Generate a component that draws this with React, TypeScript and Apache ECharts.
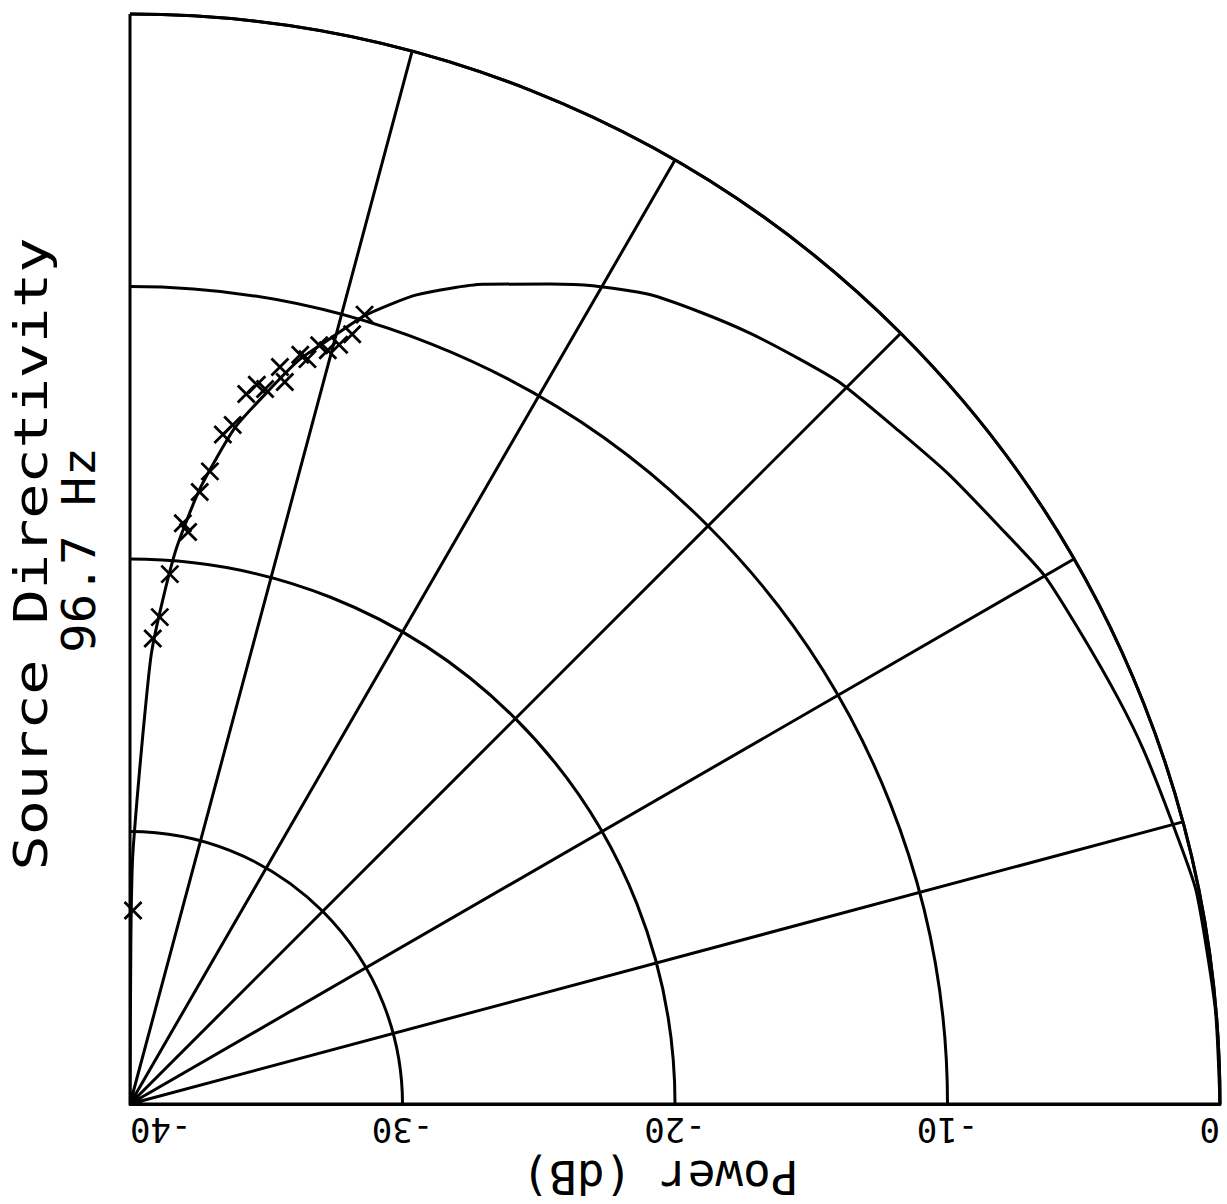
import React, { useEffect, useRef } from "react";
import * as echarts from "echarts";

// Measured directivity curve (angle in degrees, power in dB)
const lineAngles = [0, 5, 11.3, 14.9, 19.2, 22.3, 26.3, 30.1, 33.6, 37.6, 41.2, 45.4, 48.1, 51.2, 54.3, 57.3, 60.5, 62.9, 66.7, 70.5, 73.4, 75.4, 77.2, 79.1, 81.2, 83.5, 85.2, 86.3, 87.3, 88.0, 88.7, 89.4, 89.7, 90];
const lineDb = [0, -0.02, -0.1, -0.37, -0.6, -0.8, -1.06, -1.25, -1.7, -2.1, -2.5, -2.85, -3.25, -3.7, -4.2, -4.7, -5.5, -6.2, -7.25, -8.5, -9.8, -11.0, -12.0, -13.4, -14.9, -17.25, -19.5, -21.5, -23.5, -26.4, -28.9, -31, -34, -40];

// Measured points (x markers)
const markerAngles = [73.45, 73.9, 74.6, 75.3, 76.0, 76.6, 77.2, 77.9, 78.5, 79.3, 80.0, 80.7, 81.4, 82.1, 82.8, 83.5, 84.8, 84.2, 85.7, 86.5, 87.2, 89.1];
const markerDb = [-9.78, -10.6, -11.1, -11.4, -11.3, -11.9, -11.8, -12.9, -12.4, -13.3, -13.2, -13.6, -14.8, -15.2, -16.6, -17.4, -18.6, -18.9, -20.5, -22.1, -22.9, -32.9];

// Axis settings
const radiusMin = -40;
const radiusMax = 0;
const radiusStep = 10;
const angleMin = 0;
const angleMax = 90;
const angleStep = 15;

const titleLine1 = "Source Directivity";
const titleLine2 = "96.7 Hz";
const axisName = "Power (dB)";

const FONT = "DejaVu Sans Mono";
const INK = "#000";

export default function App() {
  const ref = useRef<HTMLDivElement>(null);

  useEffect(() => {
    if (!ref.current) return;
    const chart = echarts.init(ref.current, undefined, { renderer: "svg" });

    const lineData = lineAngles.map((a, i) => [lineDb[i], a]);
    const markerData = markerAngles.map((a, i) => [markerDb[i], a]);

    const gridLine = { color: INK, width: 3, type: "solid" as const };

    chart.setOption({
      animation: false,
      backgroundColor: "#fff",
      polar: {
        center: [130, 1104],
        radius: 1090,
      },
      angleAxis: {
        type: "value",
        min: angleMin,
        max: angleMax,
        interval: angleStep,
        startAngle: 0,
        endAngle: 90,
        clockwise: false,
        axisLine: { show: true, lineStyle: gridLine },
        axisTick: { show: false },
        axisLabel: { show: false },
        splitLine: { show: true, lineStyle: gridLine },
      },
      radiusAxis: {
        type: "value",
        min: radiusMin,
        max: radiusMax,
        interval: radiusStep,
        axisLine: { show: true, lineStyle: gridLine },
        axisTick: { show: false },
        splitLine: { show: true, lineStyle: gridLine },
        axisLabel: {
          show: true,
          rotate: 180,
          margin: -43,
          color: INK,
          fontFamily: FONT,
          fontSize: 34,
          alignMinLabel: "right",
          alignMaxLabel: "left",
        },
        name: axisName,
        nameLocation: "middle",
        nameGap: 50,
        nameRotate: 180,
        nameTextStyle: {
          color: INK,
          fontFamily: FONT,
          fontSize: 46,
          padding: [0, 0, 0, 30],
        },
        z: 5,
      },
      series: [
        {
          type: "line",
          coordinateSystem: "polar",
          data: lineData,
          showSymbol: false,
          smooth: 0.2,
          lineStyle: { color: INK, width: 3 },
          clip: false,
          z: 3,
        },
        {
          type: "scatter",
          coordinateSystem: "polar",
          data: markerData,
          symbol: "path://M0 0L10 10M10 0L0 10",
          symbolSize: 17,
          itemStyle: { color: "none", borderColor: INK, borderWidth: 2.8, opacity: 1 },
          clip: false,
          z: 4,
        },
      ],
      graphic: [
        {
          type: "text",
          x: 31,
          y: 554,
          rotation: Math.PI / 2,
          scaleX: 1.27,
          style: {
            text: titleLine1,
            fontFamily: FONT,
            fontSize: 46,
            fill: INK,
            textAlign: "center",
            textVerticalAlign: "middle",
          },
        },
        {
          type: "text",
          x: 79,
          y: 550,
          rotation: Math.PI / 2,
          scaleX: 1.06,
          style: {
            text: titleLine2,
            fontFamily: FONT,
            fontSize: 46,
            fill: INK,
            textAlign: "center",
            textVerticalAlign: "middle",
          },
        },
      ],
    });

    return () => chart.dispose();
  }, []);

  return (
    <div
      ref={ref}
      style={{ position: "absolute", left: 0, top: 0, width: 1227, height: 1204, background: "#fff" }}
    />
  );
}
